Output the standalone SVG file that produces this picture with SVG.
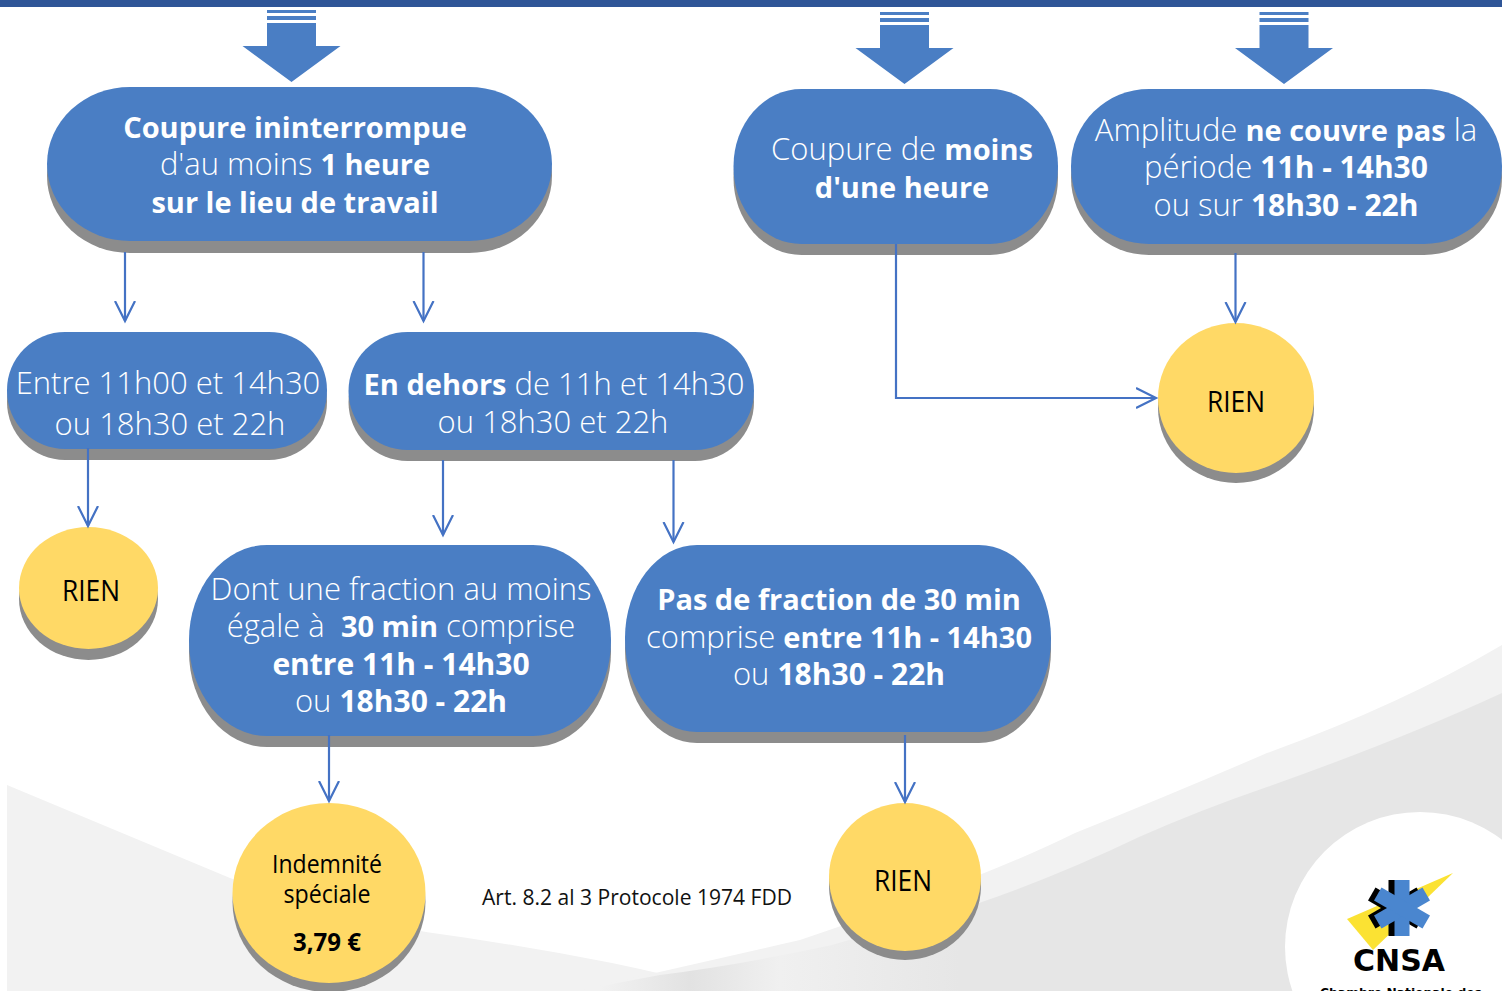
<svg xmlns="http://www.w3.org/2000/svg" width="1502" height="991" viewBox="0 0 1502 991">
<style>
text{text-anchor:middle}
.t{font-family:"Open Sans","Noto Sans",sans-serif;font-size:31px;fill:#fff;font-weight:300;white-space:pre}
.t tspan.b{font-weight:700;font-size:29px}
.t tspan.d{font-weight:700;font-size:30px}
.n{fill:#4a7ec4}.s{fill:#8c8c8c}.y{fill:#ffd966}
.k{font-family:"Open Sans",sans-serif;font-size:30px;fill:#000}
.i{font-size:25px}
.c{fill:none;stroke:#4472c4;stroke-width:2.200}
.h{fill:none;stroke:#4472c4;stroke-width:2.200}
</style>
<defs>
<linearGradient id="g" gradientUnits="userSpaceOnUse" x1="600" y1="0" x2="960" y2="0"><stop offset="0" stop-color="#f2f2f2"/><stop offset=".25" stop-color="#e2e2e2"/><stop offset=".5" stop-color="#f0f0f0"/><stop offset="1" stop-color="#e6e6e6"/></linearGradient>
<marker id="a" markerUnits="userSpaceOnUse" markerWidth="24" markerHeight="28" refX="20" refY="12" orient="auto"><path class="h" d="M0 2L20 12L0 22"/></marker>
<path id="arrow" class="n" d="M-24.500 0h49v3h-49zM-24.500 6h49v4h-49zM-24.500 13h49v23h24.500l-49 36l-49 -36h24.500z"/>
<g id="star"><rect x="-7.500" y="-28" width="15" height="56"/><rect x="-7.500" y="-28" width="15" height="56" transform="rotate(60)"/><rect x="-7.500" y="-28" width="15" height="56" transform="rotate(120)"/></g>
</defs>
<rect width="1502" height="991" fill="#fff"/>
<path d="M7 785L230 878Q330 915 426 932Q520 945 612 963Q670 975 730 991H7Z" fill="#f2f2f2"/>
<path d="M1502 645Q1400 705 1267 753Q1170 795 1075 833Q980 880 800 940Q690 965 576 991H1502Z" fill="#f2f2f2"/>
<path d="M1502 693Q1400 740 1267 787Q1200 810 1139 837Q1060 875 979 903Q900 925 832 945Q740 965 660 975Q620 982 580 991H1502Z" fill="url(#g)"/>
<circle cx="1420" cy="947" r="135" fill="#fff"/>
<rect width="1502" height="7" fill="#2f5597"/>
<g id="logo">
<path d="M1453 873L1347 919L1373 950Z" fill="#fbe233"/>
<use href="#star" transform="translate(1396 908)" fill="#000"/>
<use href="#star" transform="translate(1402 908)" fill="#4a86cf"/>
<text x="1399" y="971" style="font-family:'DejaVu Sans',sans-serif;font-size:30px;font-weight:700" fill="#000">CNSA</text>
<text x="1401" y="997" style="font-family:'DejaVu Sans',sans-serif;font-size:12.300px;font-weight:700" fill="#000">Chambre Nationale des</text>
</g>
<use href="#arrow" x="291.500" y="10"/>
<use href="#arrow" x="904.500" y="12"/>
<use href="#arrow" x="1284" y="12"/>
<g id="n1"><rect class="s" x="47" y="98" width="505" height="155" rx="83" ry="77"/><rect class="n" x="47" y="87" width="505" height="154" rx="83" ry="77"/>
<text class="t" x="295" y="138"><tspan class="b">Coupure ininterrompue</tspan></text>
<text class="t" x="295" y="175">d'au moins <tspan class="b">1 heure</tspan></text>
<text class="t" x="295" y="213"><tspan class="b">sur le lieu de travail</tspan></text></g>
<g id="n2"><rect class="s" x="733.500" y="100" width="324.500" height="155" rx="68" ry="77"/><rect class="n" x="733.500" y="89" width="324.500" height="155" rx="68" ry="77"/>
<text class="t" x="902" y="160">Coupure de <tspan class="b">moins</tspan></text>
<text class="t" x="902" y="198"><tspan class="b">d'une heure</tspan></text></g>
<g id="n3"><rect class="s" x="1071" y="100" width="431" height="155" rx="78" ry="77"/><rect class="n" x="1071" y="89" width="431" height="155" rx="78" ry="77"/>
<text class="t" x="1286" y="141">Amplitude <tspan class="b">ne couvre pas</tspan> la</text>
<text class="t" x="1286" y="178">période <tspan class="d">11h - 14h30</tspan></text>
<text class="t" x="1286" y="216">ou sur <tspan class="d">18h30 - 22h</tspan></text></g>
<g id="n4"><rect class="s" x="7" y="343" width="320" height="117" rx="58"/><rect class="n" x="7" y="332" width="320" height="117" rx="58"/>
<text class="t" x="168" y="394">Entre 11h00 et 14h30</text>
<text class="t" x="170" y="435">ou 18h30 et 22h</text></g>
<g id="n5"><rect class="s" x="348.500" y="343" width="405.500" height="118" rx="59"/><rect class="n" x="348.500" y="332" width="405.500" height="118" rx="59"/>
<text class="t" x="554" y="395"><tspan class="b">En dehors</tspan> de 11h et 14h30</text>
<text class="t" x="553" y="433">ou 18h30 et 22h</text></g>
<g id="n6"><rect class="s" x="189" y="556" width="422" height="191" rx="78" ry="95"/><rect class="n" x="189" y="545" width="422" height="191" rx="78" ry="95"/>
<text class="t" x="401" y="600">Dont une fraction au moins</text>
<text class="t" x="401" y="637">égale à  <tspan class="b">30 min</tspan> comprise</text>
<text class="t" x="401" y="675"><tspan class="d">entre 11h - 14h30</tspan></text>
<text class="t" x="401" y="712">ou <tspan class="d">18h30 - 22h</tspan></text></g>
<g id="n7"><rect class="s" x="625" y="556" width="426" height="187" rx="72" ry="93"/><rect class="n" x="625" y="545" width="426" height="187" rx="72" ry="93"/>
<text class="t" x="839" y="610"><tspan class="b">Pas de fraction de 30 min</tspan></text>
<text class="t" x="839" y="648">comprise <tspan class="b">entre 11h - 14h30</tspan></text>
<text class="t" x="839" y="685">ou <tspan class="d">18h30 - 22h</tspan></text></g>
<g id="r1"><ellipse class="s" cx="88.500" cy="599" rx="69.500" ry="61"/><ellipse class="y" cx="88.500" cy="588" rx="69.500" ry="61"/><text class="k" x="91" y="601" textLength="58" lengthAdjust="spacingAndGlyphs">RIEN</text></g>
<g id="r2"><ellipse class="s" cx="1236" cy="408" rx="78" ry="75"/><ellipse class="y" cx="1236" cy="398" rx="78" ry="75"/><text class="k" x="1236" y="412" textLength="58" lengthAdjust="spacingAndGlyphs">RIEN</text></g>
<g id="r3"><ellipse class="s" cx="905" cy="886" rx="76" ry="74"/><ellipse class="y" cx="905" cy="877" rx="76" ry="74"/><text class="k" x="903" y="891" textLength="58" lengthAdjust="spacingAndGlyphs">RIEN</text></g>
<g id="r4"><ellipse class="s" cx="329" cy="902" rx="96.500" ry="90"/><ellipse class="y" cx="329" cy="893" rx="96.500" ry="90"/>
<text class="k i" x="327" y="873" textLength="110" lengthAdjust="spacingAndGlyphs">Indemnité</text>
<text class="k i" x="327" y="903" textLength="87" lengthAdjust="spacingAndGlyphs">spéciale</text>
<text class="k i" x="327" y="951" textLength="68" lengthAdjust="spacingAndGlyphs" style="font-weight:700">3,79 €</text></g>
<text x="637" y="905" textLength="310" lengthAdjust="spacingAndGlyphs" style="font-family:'Open Sans',sans-serif;font-size:21px" fill="#111">Art. 8.2 al 3 Protocole 1974 FDD</text>
<g id="connectors">
<path class="c" marker-end="url(#a)" d="M125 252V321"/>
<path class="c" marker-end="url(#a)" d="M423.500 252V321"/>
<path class="c" marker-end="url(#a)" d="M88 448V526"/>
<path class="c" marker-end="url(#a)" d="M443 460V535"/>
<path class="c" marker-end="url(#a)" d="M673.500 460V542"/>
<path class="c" marker-end="url(#a)" d="M329 735V801"/>
<path class="c" marker-end="url(#a)" d="M905 735V802"/>
<path class="c" marker-end="url(#a)" d="M1235.500 253V322"/>
<path class="c" marker-end="url(#a)" d="M896 244V398H1156"/>
</g>
</svg>
